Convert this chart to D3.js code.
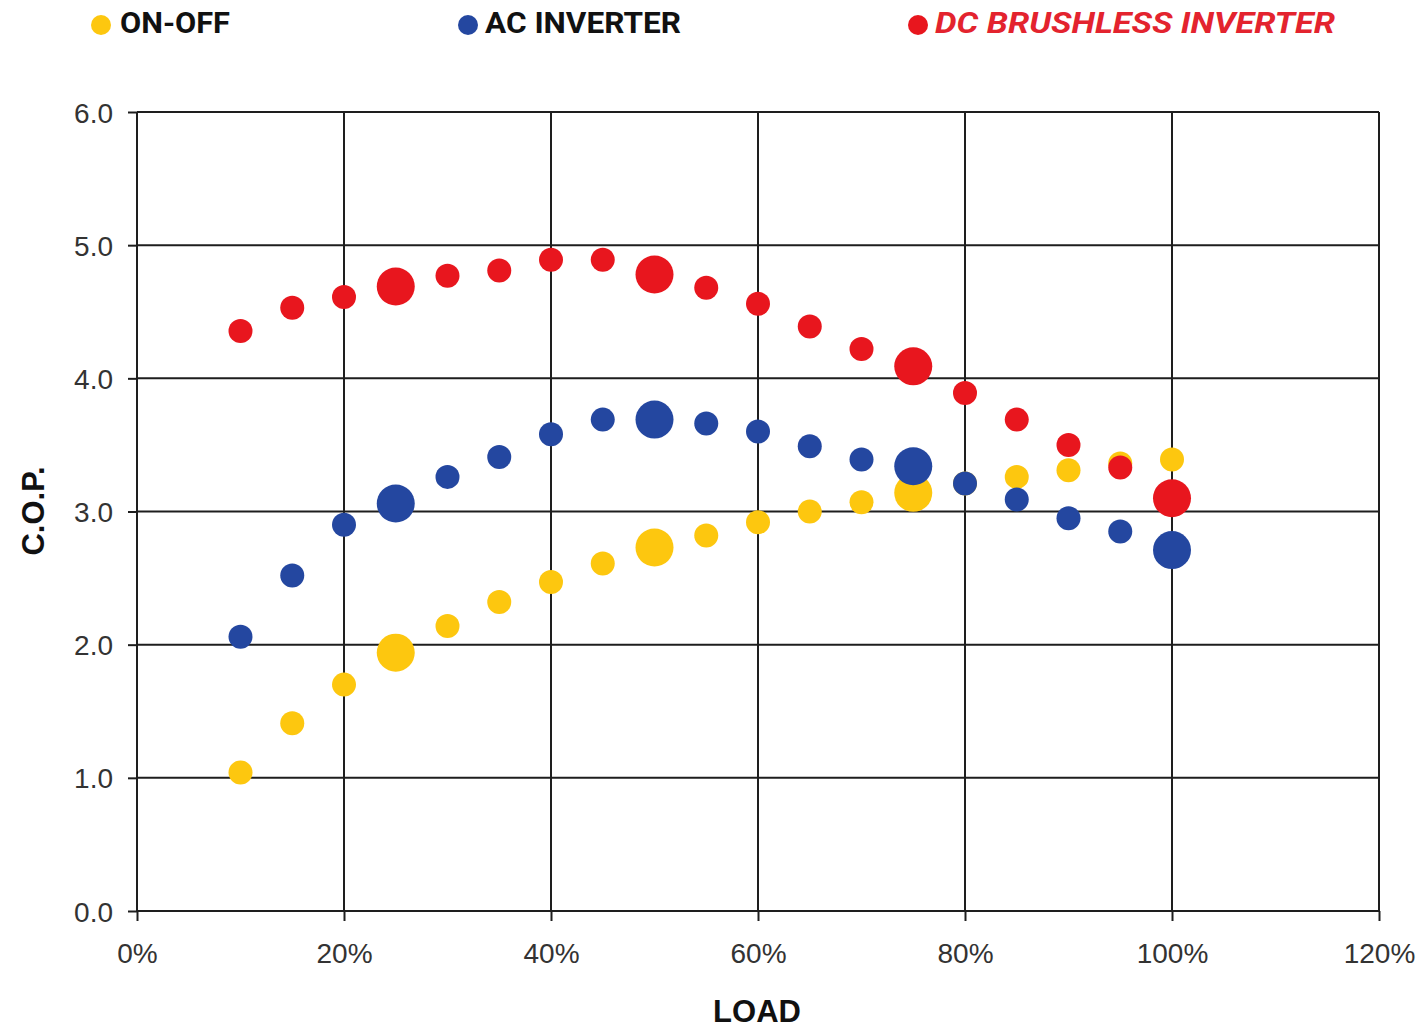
<!DOCTYPE html>
<html>
<head>
<meta charset="utf-8">
<script src="https://cdn.jsdelivr.net/npm/d3@7"></script>
<style>
  html, body { margin: 0; padding: 0; background: #fff; }
  svg { display: block; }
</style>
</head>
<body>
<svg id="chart" width="1420" height="1028"></svg>
<script>
// ---- data ----
const loads = [10, 15, 20, 25, 30, 35, 40, 45, 50, 55, 60, 65, 70, 75, 80, 85, 90, 95, 100];
const onOff = [1.04, 1.41, 1.70, 1.94, 2.14, 2.32, 2.47, 2.61, 2.73, 2.82, 2.92, 3.00, 3.07, 3.14, 3.21, 3.26, 3.31, 3.36, 3.39];
const acInverter = [2.06, 2.52, 2.90, 3.06, 3.26, 3.41, 3.58, 3.69, 3.69, 3.66, 3.60, 3.49, 3.39, 3.34, 3.21, 3.09, 2.95, 2.85, 2.71];
const dcBrushless = [4.355, 4.53, 4.61, 4.69, 4.77, 4.81, 4.89, 4.89, 4.78, 4.68, 4.56, 4.39, 4.22, 4.09, 3.89, 3.69, 3.50, 3.33, 3.10];
const onOffHighlight = [25, 50, 75];
const acHighlight = [25, 50, 75, 100];
const dcHighlight = [25, 50, 75, 100];
const xTicks = [0, 20, 40, 60, 80, 100, 120];
const yTicks = [0, 1, 2, 3, 4, 5, 6];
const seriesNames = ["ON-OFF", "AC INVERTER", "DC BRUSHLESS INVERTER"];

// ---- layout ----
const svg = d3.select("#chart");
const plotLeft = 137, plotRight = 1379, plotTop = 112, plotBottom = 911;
const x = d3.scaleLinear().domain([0, 120]).range([plotLeft, plotRight]);
const y = d3.scaleLinear().domain([0, 6]).range([plotBottom, plotTop]);
const colors = ["#FDC70F", "#2447A0", "#E8161E"];
const gridColor = "#1e1e1e";
const font = "'Liberation Sans', Arial, sans-serif";

// grid lines
svg.append("g").selectAll("line").data(yTicks).join("line")
  .attr("x1", plotLeft).attr("x2", plotRight)
  .attr("y1", d => y(d)).attr("y2", d => y(d))
  .attr("stroke", gridColor).attr("stroke-width", 2);
svg.append("g").selectAll("line").data(xTicks).join("line")
  .attr("x1", d => x(d)).attr("x2", d => x(d))
  .attr("y1", plotTop).attr("y2", plotBottom)
  .attr("stroke", gridColor).attr("stroke-width", 2);

// axes
const yAxis = d3.axisLeft(y).tickValues(yTicks).tickFormat(d3.format(".1f")).tickSize(9).tickPadding(15);
const gy = svg.append("g").attr("transform", `translate(${plotLeft},0)`).call(yAxis);
const xAxis = d3.axisBottom(x).tickValues(xTicks).tickFormat(d => d + "%").tickSize(10).tickPadding(22);
const gx = svg.append("g").attr("transform", `translate(0,${plotBottom})`).call(xAxis);
[gx, gy].forEach(g => {
  g.select(".domain").remove();
  g.selectAll(".tick line").attr("stroke", gridColor).attr("stroke-width", 2);
  g.selectAll(".tick text").attr("fill", "#333").style("font-family", font).style("font-size", "28px");
});
gx.selectAll(".tick text").attr("dy", "0.71em");
gy.selectAll(".tick text").attr("dy", "0.36em");

// axis titles
svg.append("text").attr("x", 757).attr("y", 1022).attr("text-anchor", "middle")
  .style("font-family", font).style("font-weight", "bold").style("font-size", "31px")
  .attr("fill", "#111").text("LOAD");
svg.append("text").attr("transform", "translate(44,511) rotate(-90)").attr("text-anchor", "middle")
  .style("font-family", font).style("font-weight", "bold").style("font-size", "31px")
  .attr("fill", "#111").text("C.O.P.");

// points
const series = [onOff, acInverter, dcBrushless];
const highlights = [onOffHighlight, acHighlight, dcHighlight];
series.forEach((vals, i) => {
  svg.append("g").selectAll("circle").data(loads.map((l, j) => ({ l, v: vals[j] }))).join("circle")
    .attr("cx", d => x(d.l)).attr("cy", d => y(d.v))
    .attr("r", d => highlights[i].includes(d.l) ? 19 : 12)
    .attr("fill", colors[i]);
});

// legend
const legendDotX = [101, 468, 918];
const legendTextX = [120, 485, 935];
const legendLen = [110, 196, 400];
seriesNames.forEach((name, i) => {
  svg.append("circle").attr("cx", legendDotX[i]).attr("cy", 25).attr("r", 10).attr("fill", colors[i]);
  svg.append("text").attr("x", legendTextX[i]).attr("y", 33)
    .attr("textLength", legendLen[i]).attr("lengthAdjust", "spacingAndGlyphs")
    .style("font-family", "'Liberation Sans Narrow', 'Roboto', sans-serif")
    .style("font-weight", "bold").style("font-size", "29px")
    .style("font-style", i === 2 ? "italic" : "normal")
    .attr("fill", i === 2 ? "#E3232E" : "#111")
    .text(name);
});
</script>
</body>
</html>
